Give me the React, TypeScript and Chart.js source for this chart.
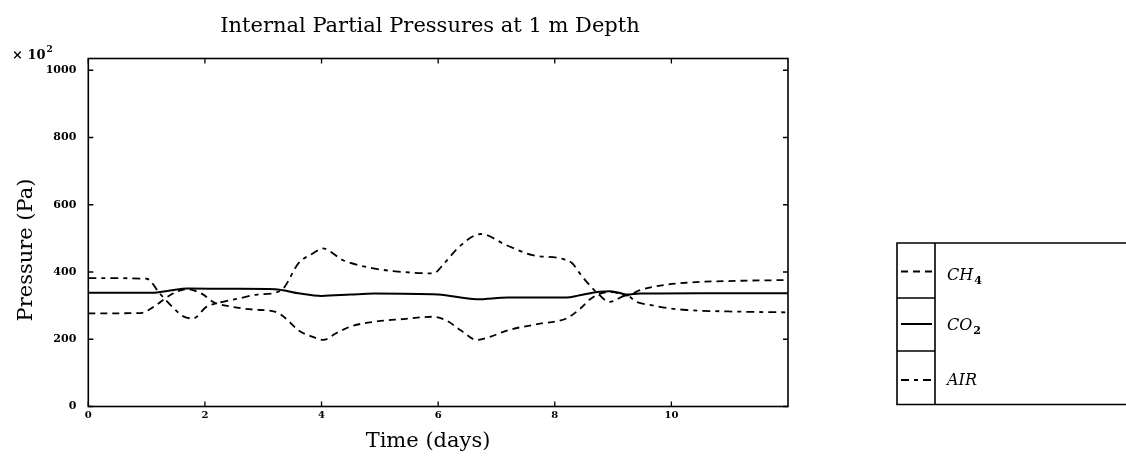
import React, { useEffect, useRef } from "react";
import { Chart, registerables } from "chart.js";

Chart.register(...registerables);

// ---- text ----
const TITLE = "Internal Partial Pressures at 1 m Depth";
const X_TITLE = "Time (days)";
const Y_TITLE = "Pressure (Pa)";
const Y_MULT = "× 10";
const Y_MULT_EXP = "2";

// ---- axes ----
const X_MIN = 0;
const X_MAX = 12;
const Y_MIN = 0;
const Y_MAX = 1035;
const X_TICKS = [0, 2, 4, 6, 8, 10];
const Y_TICKS = [0, 200, 400, 600, 800, 1000];

// ---- series (time in days, pressure in Pa x 10^2) ----
const SERIES_LABELS = ["CH₄", "CO₂", "AIR"];

const CH4_TIME = [0, 0.9, 1.15, 1.4, 1.69, 1.95, 2.15, 2.45, 2.85, 3.2, 3.4, 3.6, 3.85, 4.03, 4.25, 4.5, 4.9, 5.4, 5.92, 6.15, 6.4, 6.66, 6.9, 7.2, 7.7, 8.2, 8.43, 8.6, 8.78, 9.0, 9.23, 9.46, 9.75, 10.25, 11.2, 12];
const CH4_P = [277, 278, 300, 331, 349, 335, 310, 297, 288, 282, 260, 227, 207, 198, 218, 238, 252, 260, 267, 255, 225, 198, 208, 227, 245, 262, 290, 318, 336, 340, 330, 346, 358, 368, 374, 376];

const CO2_TIME = [0, 1.1, 1.4, 1.7, 2.5, 3.2, 3.6, 4.0, 4.5, 4.9, 6.0, 6.66, 7.2, 8.2, 8.43, 8.77, 8.94, 9.1, 9.23, 9.46, 10.5, 12];
const CO2_P = [338, 338, 345, 351, 350, 349, 337, 329, 333, 336, 333, 319, 324, 324, 331, 341, 343, 338, 333, 336, 337, 337];

const AIR_TIME = [0, 1.0, 1.23, 1.45, 1.63, 1.8, 2.03, 2.2, 2.6, 2.9, 3.2, 3.35, 3.6, 3.85, 4.02, 4.37, 4.89, 5.4, 5.92, 6.1, 6.36, 6.73, 7.17, 7.62, 8.12, 8.3, 8.43, 8.57, 8.71, 8.94, 9.23, 9.4, 9.63, 9.97, 10.26, 11.17, 12];
const AIR_P = [382, 380, 335, 295, 268, 262, 297, 307, 322, 333, 338, 352, 425, 455, 470, 435, 411, 400, 396, 425, 475, 513, 480, 450, 440, 426, 396, 366, 341, 311, 330, 311, 302, 292, 287, 282, 280];

const SERIF = '"DejaVu Serif", serif';
const INK = "#000";

const toPoints = (t: number[], p: number[]) => t.map((x, i) => ({ x, y: p[i] }));

const SUB_MAP: Record<string, string> = { "₀": "0", "₁": "1", "₂": "2", "₃": "3", "₄": "4", "₅": "5", "₆": "6", "₇": "7", "₈": "8", "₉": "9" };

function drawWithSubs(ctx: CanvasRenderingContext2D, text: string, x: number, y: number, size: number) {
  let cx = x;
  for (const ch of Array.from(text)) {
    if (SUB_MAP[ch]) {
      ctx.font = `bold ${Math.round(size * 0.7)}px ${SERIF}`;
      ctx.fillText(SUB_MAP[ch], cx + 1, y + size * 0.3);
      cx += ctx.measureText(SUB_MAP[ch]).width + 1;
    } else {
      ctx.font = `italic ${size}px ${SERIF}`;
      ctx.fillText(ch, cx, y);
      cx += ctx.measureText(ch).width;
    }
  }
}

const decorPlugin = {
  id: "decor",
  afterDatasetsDraw(chart: any) {
    const { ctx, chartArea } = chart;
    const { left, right, top, bottom } = chartArea;
    const xs = chart.scales.x;
    const ys = chart.scales.y;
    ctx.save();
    ctx.strokeStyle = INK;
    ctx.fillStyle = INK;
    ctx.setLineDash([]);
    // frame
    ctx.lineWidth = 1.6;
    ctx.strokeRect(left, top, right - left, bottom - top);
    // inward ticks
    ctx.lineWidth = 1.3;
    ctx.beginPath();
    for (const v of X_TICKS) {
      const px = xs.getPixelForValue(v);
      ctx.moveTo(px, bottom);
      ctx.lineTo(px, bottom - 5);
      ctx.moveTo(px, top);
      ctx.lineTo(px, top + 5);
    }
    for (const v of Y_TICKS) {
      const py = ys.getPixelForValue(v);
      ctx.moveTo(left, py);
      ctx.lineTo(left + 5, py);
      ctx.moveTo(right, py);
      ctx.lineTo(right - 5, py);
    }
    ctx.stroke();

    // title
    ctx.textAlign = "center";
    ctx.textBaseline = "alphabetic";
    ctx.font = `21px ${SERIF}`;
    ctx.fillText(TITLE, 430, 32);
    // x title
    ctx.fillText(X_TITLE, 428, 447);
    // y title
    ctx.save();
    ctx.translate(32, 250);
    ctx.rotate(-Math.PI / 2);
    ctx.fillText(Y_TITLE, 0, 0);
    ctx.restore();
    // multiplier
    ctx.textAlign = "left";
    ctx.font = `bold 13px ${SERIF}`;
    ctx.fillText(Y_MULT, 12, 59);
    const w = ctx.measureText(Y_MULT).width;
    ctx.font = `bold 9px ${SERIF}`;
    ctx.fillText(Y_MULT_EXP, 12 + w + 1, 52);

    // legend
    const L = 897, D = 935, R = 1126, T = 243, B = 404.5;
    const rows = [
      { sample: 271.5, text: 276, sepBelow: 298 },
      { sample: 324, text: 326, sepBelow: 351 },
      { sample: 380, text: 381, sepBelow: null },
    ];
    ctx.lineWidth = 1.6;
    ctx.beginPath();
    ctx.moveTo(R, T);
    ctx.lineTo(L, T);
    ctx.lineTo(L, B);
    ctx.lineTo(R, B);
    ctx.moveTo(D, T);
    ctx.lineTo(D, B);
    for (const r of rows) {
      if (r.sepBelow !== null) {
        ctx.moveTo(L, r.sepBelow);
        ctx.lineTo(D, r.sepBelow);
      }
    }
    ctx.stroke();
    chart.data.datasets.forEach((ds: any, i: number) => {
      const r = rows[i];
      if (!r) return;
      ctx.beginPath();
      ctx.lineWidth = ds.borderWidth;
      ctx.setLineDash(ds.borderDash || []);
      ctx.moveTo(901, r.sample);
      ctx.lineTo(932, r.sample);
      ctx.stroke();
      ctx.setLineDash([]);
      ctx.textAlign = "left";
      ctx.textBaseline = "middle";
      drawWithSubs(ctx, ds.label, 947, r.text, 16);
    });
    ctx.restore();
  },
};

export default function App() {
  const ref = useRef<HTMLCanvasElement | null>(null);

  useEffect(() => {
    if (!ref.current) return;
    const lineBase = {
      borderColor: INK,
      backgroundColor: INK,
      pointRadius: 0,
      fill: false,
      cubicInterpolationMode: "monotone" as const,
    };
    const chart = new Chart(ref.current, {
      type: "line",
      data: {
        datasets: [
          { ...lineBase, label: SERIES_LABELS[0], data: toPoints(CH4_TIME, CH4_P), borderWidth: 1.8, borderDash: [7, 5] },
          { ...lineBase, label: SERIES_LABELS[1], data: toPoints(CO2_TIME, CO2_P), borderWidth: 2 },
          { ...lineBase, label: SERIES_LABELS[2], data: toPoints(AIR_TIME, AIR_P), borderWidth: 1.8, borderDash: [8, 5, 4, 5] },
        ],
      },
      options: {
        responsive: false,
        animation: false,
        devicePixelRatio: 1,
        layout: { padding: { top: 58.5, left: 0, right: 338, bottom: 0 } },
        plugins: {
          legend: { display: false },
          title: { display: false },
          tooltip: { enabled: false },
        },
        scales: {
          x: {
            type: "linear",
            min: X_MIN,
            max: X_MAX,
            grid: { display: false, drawTicks: false },
            border: { display: false },
            afterBuildTicks: (s: any) => {
              s.ticks = X_TICKS.map((v) => ({ value: v }));
            },
            afterFit: (s: any) => {
              s.height = 57.5;
            },
            ticks: {
              color: INK,
              padding: 3,
              maxRotation: 0,
              callback: (v: any) => String(v),
              font: { family: SERIF, size: 10, weight: "bold" },
            },
          },
          y: {
            type: "linear",
            min: Y_MIN,
            max: Y_MAX,
            grid: { display: false, drawTicks: false },
            border: { display: false },
            afterBuildTicks: (s: any) => {
              s.ticks = Y_TICKS.map((v) => ({ value: v }));
            },
            afterFit: (s: any) => {
              s.width = 88.3;
            },
            ticks: {
              color: INK,
              padding: 12,
              callback: (v: any) => String(v),
              font: { family: SERIF, size: 11, weight: "bold" },
            },
          },
        },
      },
      plugins: [decorPlugin],
    });
    return () => chart.destroy();
  }, []);

  return (
    <div style={{ position: "absolute", left: 0, top: 0, width: 1126, height: 464, background: "#fff" }}>
      <canvas ref={ref} width={1126} height={464} style={{ display: "block" }} />
    </div>
  );
}
